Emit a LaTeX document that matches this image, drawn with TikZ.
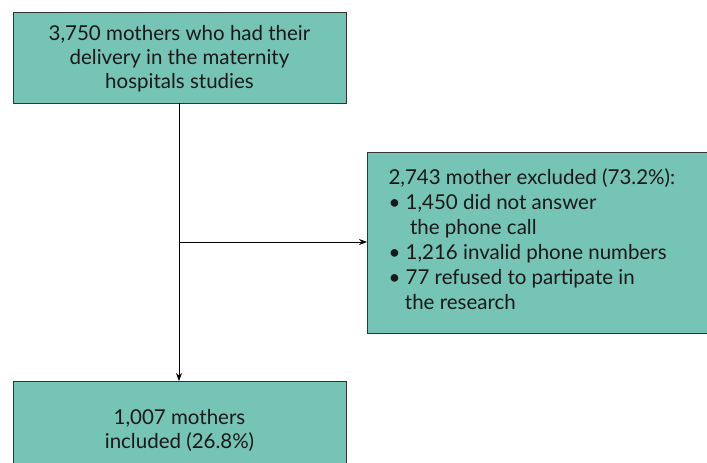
\documentclass[tikz,border=0pt]{standalone}
\usepackage{fontspec}
\setmainfont{Lato}
\usetikzlibrary{arrows.meta}
\definecolor{boxfill}{HTML}{76C4B5}
\definecolor{boxline}{HTML}{333333}
\tikzset{
  box/.style={draw=boxline, line width=1pt, fill=boxfill, inner sep=0pt},
  txt/.style={font=\fontsize{20.5}{24}\selectfont, text=black!90, align=center},
  conn/.style={line width=0.8pt, -{Stealth[length=8pt,width=6pt]}}
}
\begin{document}
\begin{tikzpicture}[x=1pt,y=-1pt]
\useasboundingbox (0,0) rectangle (707,463);
\clip (0,0) rectangle (707,463);
\node[box, minimum width=333pt, minimum height=91pt, anchor=north west] (top) at (13,12) {};
\node[txt] (toptxt) at (179.5,59) {3,750 mothers who had their\\delivery in the maternity\\hospitals studies};
\node[box, minimum width=345pt, minimum height=181pt, anchor=north west] (excl) at (367,152) {};
\node[txt, font=\fontsize{20.5}{25}\selectfont, align=left, anchor=north west] (excltxt) at (385,165) {2,743 mother excluded (73.2\%):\\
\textbullet\ 1,450 did not answer\\
\hspace*{1.05em}the phone call\\
\textbullet\ 1,216 invalid phone numbers\\
\textbullet\ 77 refused to partipate in\\
\hspace*{0.8em}the research};
\node[box, minimum width=333pt, minimum height=100pt, anchor=north west] (incl) at (13,381) {};
\node[txt] (incltxt) at (179.5,430) {1,007 mothers\\included (26.8\%)};
\coordinate (j) at (179,242);
\draw[line width=0.8pt] (179,103) -- (j);
\draw[conn] (j) -- (excl.west |- j);
\draw[conn] (j) -- (179,381);
\end{tikzpicture}
\end{document}
